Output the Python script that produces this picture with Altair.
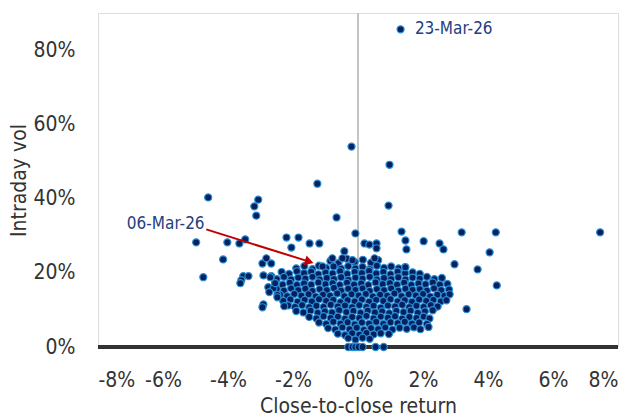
import altair as alt
import pandas as pd

# Outlying days (close-to-close return %, intraday vol %)
outlier_ret = [1.31, -0.20, 0.97, 0.94, -1.25, -4.61, -3.07, -3.19, -3.13, -0.66,
               -4.98, -4.02, -3.65, -3.47, -4.15, -4.76, -3.53, -3.37, -3.59, -3.62,
               -2.94, -2.82, -2.67, -2.67, -2.76, -2.60, -2.73, -2.48, -2.91, -2.94,
               -2.20, -1.83, -2.05, -1.49, -1.19, -0.42, -0.79, -0.48, -1.09, -0.08,
               1.34, 1.46, 1.49, 2.02, 2.51, 2.63, 3.19, 4.24, 4.05, 2.97,
               3.68, 4.27, 3.34, 2.17, 0.20, 0.35, 0.57, 0.57, 0.51, 1.46,
               7.45, -2.27, -2.48, -2.55, -2.70, -0.17, -2.91]
outlier_vol = [85.6, 54.0, 49.1, 38.1, 44.0, 40.3, 39.7, 37.9, 35.4, 34.9,
               28.2, 28.2, 27.9, 29.0, 23.6, 18.8, 19.1, 19.1, 18.0, 17.2,
               22.5, 23.9, 22.5, 19.1, 16.1, 15.8, 14.8, 14.0, 11.5, 10.7,
               29.5, 29.5, 26.8, 27.9, 27.9, 25.8, 23.9, 23.9, 21.7, 30.6,
               31.1, 28.7, 26.3, 28.5, 27.9, 26.3, 30.9, 30.9, 25.5, 22.3,
               20.9, 16.6, 10.2, 5.4, 27.9, 27.6, 27.9, 26.6, 23.9, 21.5,
               30.9, 11.0, 13.4, 17.2, 18.8, 23.4, 19.3]

# Days with zero intraday vol
zero_ret = [-0.30, -0.17, -0.08, 0.02, 0.14, 0.54, 0.79]
zero_vol = [0, 0, 0, 0, 0, 0, 0]

# Dense core of ordinary days, read row by row
core_ret = [
    -0.85, -0.60, -0.35, -0.10, 0.15, 0.40, 0.62,
    -1.90, -1.65, -1.40, -1.20, -0.98, -0.75, -0.52, -0.30, -0.08, 0.14, 0.36, 0.58, 0.80, 1.02, 1.25, 1.45,
    -2.35, -2.12, -1.88, -1.66, -1.44, -1.22, -1.00, -0.78, -0.55, -0.33, -0.10, 0.12, 0.34, 0.56, 0.78, 1.00, 1.22, 1.45, 1.68, 1.90,
    -2.50, -2.28, -2.06, -1.84, -1.62, -1.40, -1.18, -0.96, -0.74, -0.52, -0.30, -0.08, 0.14, 0.36, 0.58, 0.80, 1.02, 1.24, 1.46, 1.68, 1.90, 2.12, 2.35, 2.58,
    -2.55, -2.32, -2.10, -1.88, -1.66, -1.44, -1.22, -1.00, -0.78, -0.56, -0.34, -0.12, 0.10, 0.32, 0.54, 0.76, 0.98, 1.20, 1.42, 1.64, 1.86, 2.08, 2.30, 2.52, 2.75,
    -2.50, -2.28, -2.06, -1.84, -1.62, -1.40, -1.18, -0.96, -0.74, -0.52, -0.30, -0.08, 0.14, 0.36, 0.58, 0.80, 1.02, 1.24, 1.46, 1.68, 1.90, 2.12, 2.34, 2.56, 2.80,
    -2.40, -2.18, -1.96, -1.74, -1.52, -1.30, -1.08, -0.86, -0.64, -0.42, -0.20, 0.02, 0.24, 0.46, 0.68, 0.90, 1.12, 1.34, 1.56, 1.78, 2.00, 2.22, 2.44, 2.66, 2.82,
    -2.30, -2.08, -1.86, -1.64, -1.42, -1.20, -0.98, -0.76, -0.54, -0.32, -0.10, 0.12, 0.34, 0.56, 0.78, 1.00, 1.22, 1.44, 1.66, 1.88, 2.10, 2.32, 2.55, 2.72,
    -2.15, -1.94, -1.72, -1.50, -1.28, -1.06, -0.84, -0.62, -0.40, -0.18, 0.04, 0.26, 0.48, 0.70, 0.92, 1.14, 1.36, 1.58, 1.80, 2.02, 2.24, 2.45,
    -1.90, -1.68, -1.46, -1.24, -1.02, -0.80, -0.58, -0.36, -0.14, 0.08, 0.30, 0.52, 0.74, 0.96, 1.18, 1.40, 1.62, 1.84, 2.06, 2.30,
    -1.50, -1.28, -1.06, -0.84, -0.62, -0.40, -0.18, 0.04, 0.26, 0.48, 0.70, 0.92, 1.14, 1.36, 1.58, 1.80, 2.02, 2.20,
    -1.20, -0.98, -0.76, -0.54, -0.32, -0.10, 0.12, 0.34, 0.56, 0.78, 1.00, 1.22, 1.44, 1.66, 1.88, 2.12,
    -0.92, -0.70, -0.48, -0.26, -0.04, 0.18, 0.40, 0.62, 0.84, 1.06, 1.28, 1.50, 1.72, 1.92,
    -0.62, -0.40, -0.18, 0.04, 0.26, 0.48, 0.70, 0.95,
    -0.30, -0.08, 0.14, 0.36,
]
core_vol = [
    23.2, 22.6, 23.8, 22.9, 23.5, 22.7, 23.4,
    21.2, 21.8, 21.0, 21.9, 21.3, 21.7, 21.1, 21.8, 21.2, 21.6, 21.0, 21.9, 21.3, 21.7, 21.2, 21.5,
    20.2, 19.7, 20.4, 19.9, 20.3, 19.6, 20.1, 19.8, 20.4, 19.7, 20.2, 19.9, 20.5, 19.8, 20.2, 19.6, 20.3, 19.9, 20.1, 19.7,
    18.3, 18.9, 18.2, 18.7, 18.4, 18.9, 18.2, 18.6, 18.3, 18.8, 18.1, 18.7, 18.4, 18.9, 18.2, 18.6, 18.3, 18.8, 18.2, 18.7, 18.4, 18.9, 18.3, 18.6,
    17.2, 16.8, 17.3, 16.7, 17.1, 16.8, 17.4, 16.9, 17.2, 16.7, 17.3, 16.8, 17.1, 16.7, 17.4, 16.9, 17.2, 16.8, 17.3, 16.7, 17.1, 16.9, 17.4, 16.8, 17.0,
    15.6, 15.2, 15.8, 15.3, 15.7, 15.1, 15.6, 15.3, 15.9, 15.2, 15.7, 15.4, 15.8, 15.1, 15.6, 15.3, 15.8, 15.2, 15.7, 15.4, 15.6, 15.2, 15.8, 15.3, 15.5,
    14.1, 13.7, 14.3, 13.8, 14.2, 13.6, 14.1, 13.8, 14.4, 13.7, 14.2, 13.9, 14.3, 13.6, 14.1, 13.8, 14.4, 13.7, 14.2, 13.9, 14.3, 13.6, 14.1, 13.8, 14.2,
    12.4, 12.8, 12.2, 12.7, 12.3, 12.9, 12.4, 12.7, 12.1, 12.6, 12.3, 12.8, 12.2, 12.7, 12.4, 12.9, 12.3, 12.6, 12.2, 12.8, 12.4, 12.7, 12.3, 12.6,
    11.2, 10.8, 11.3, 10.7, 11.1, 10.8, 11.4, 10.9, 11.2, 10.7, 11.3, 10.8, 11.1, 10.6, 11.2, 10.9, 11.4, 10.7, 11.1, 10.8, 11.3, 10.9,
    9.7, 9.3, 9.8, 9.2, 9.6, 9.3, 9.9, 9.4, 9.7, 9.2, 9.8, 9.3, 9.6, 9.1, 9.7, 9.4, 9.8, 9.2, 9.6, 9.9,
    8.1, 7.7, 8.3, 7.8, 8.2, 7.6, 8.1, 7.8, 8.4, 7.7, 8.2, 7.9, 8.3, 7.6, 8.1, 7.8, 8.2, 7.7,
    6.6, 6.2, 6.8, 6.3, 6.7, 6.1, 6.6, 6.3, 6.8, 6.2, 6.7, 6.4, 6.8, 6.3, 6.6, 6.2,
    5.1, 4.7, 5.3, 4.8, 5.2, 4.6, 5.1, 4.8, 5.3, 4.7, 5.2, 4.9, 5.3, 4.8,
    3.6, 3.2, 3.7, 3.3, 3.8, 3.4, 3.7, 3.5,
    2.4, 2.0, 2.5, 2.2,
]

# Annotations
label_text = ["23-Mar-26", "06-Mar-26"]
label_ret = [1.75, -4.72]
label_vol = [85.6, 33.2]
label_align = ["left", "right"]

arrow_ret = [-4.67, -1.50]
arrow_vol = [31.7, 23.0]

x_ticks = [-8, -6, -4, -2, 0, 2, 4, 6, 8]
y_ticks = [0, 20, 40, 60, 80]

FONT = "DejaVu Sans Condensed"
GREY = "#333333"

points = pd.DataFrame({
    "ret": core_ret + outlier_ret + zero_ret,
    "vol": core_vol + outlier_vol + zero_vol,
})
labels = pd.DataFrame({"text": label_text, "ret": label_ret, "vol": label_vol, "align": label_align})
arrow = pd.DataFrame({"ret": arrow_ret, "vol": arrow_vol, "order": [0, 1]})

xscale = alt.Scale(domain=[-8, 8], nice=False, zero=False)
yscale = alt.Scale(domain=[0, 90], nice=False)

xaxis = alt.Axis(values=x_ticks, labelExpr="datum.value + '%'", grid=False, domain=False,
                 ticks=False, labelPadding=22, labelFontSize=21, labelFont=FONT,
                 labelColor=GREY, title="Close-to-close return", titleFont=FONT,
                 titleFontSize=21, titleFontWeight="normal", titleColor=GREY, titlePadding=5)
yaxis = alt.Axis(values=y_ticks, labelExpr="datum.value + '%'", grid=False, domain=False,
                 ticks=False, labelPadding=23, labelFontSize=21, labelFont=FONT,
                 labelColor=GREY, title="Intraday vol", titleFont=FONT, titleFontSize=21,
                 titleFontWeight="normal", titleColor=GREY, titlePadding=4)

X = alt.X("ret:Q", scale=xscale, axis=xaxis)
Y = alt.Y("vol:Q", scale=yscale, axis=yaxis)

vline = alt.Chart(points).mark_rule(color="#c4c4c4", strokeWidth=2).encode(x=alt.datum(0))
hline = alt.Chart(points).mark_rule(color="#333333", strokeWidth=2.5).encode(y=alt.datum(0))

dots = alt.Chart(points).mark_point(
    shape="circle", filled=True, size=50, fill="#03215f", stroke="#2b8fd6",
    strokeWidth=1.2, opacity=1
).encode(x=X, y=Y)

arrow_line = alt.Chart(arrow).mark_line(color="#c00000", strokeWidth=2).encode(
    x="ret:Q", y="vol:Q", order="order:Q")
arrow_head = alt.Chart(arrow).transform_filter("datum.order == 1").mark_point(
    shape="triangle-right", filled=True, size=100, color="#c00000", angle=17, opacity=1
).encode(x="ret:Q", y="vol:Q")

text_right = alt.Chart(labels).transform_filter("datum.align == 'left'").mark_text(
    align="left", baseline="middle", font=FONT, fontSize=17, color="#24407f"
).encode(x="ret:Q", y="vol:Q", text="text:N")
text_left = alt.Chart(labels).transform_filter("datum.align == 'right'").mark_text(
    align="right", baseline="middle", font=FONT, fontSize=17, color="#24407f"
).encode(x="ret:Q", y="vol:Q", text="text:N")

chart = alt.layer(vline, hline, dots, arrow_line, arrow_head, text_right, text_left).properties(
    width=520, height=334,
    autosize=alt.AutoSizeParams(type="none"),
    padding={"left": 90, "top": 5, "right": 8, "bottom": 72},
).configure_view(stroke=None).configure(background="white")

chart.save("out.html", embed_options={"renderer": "svg", "actions": False})
